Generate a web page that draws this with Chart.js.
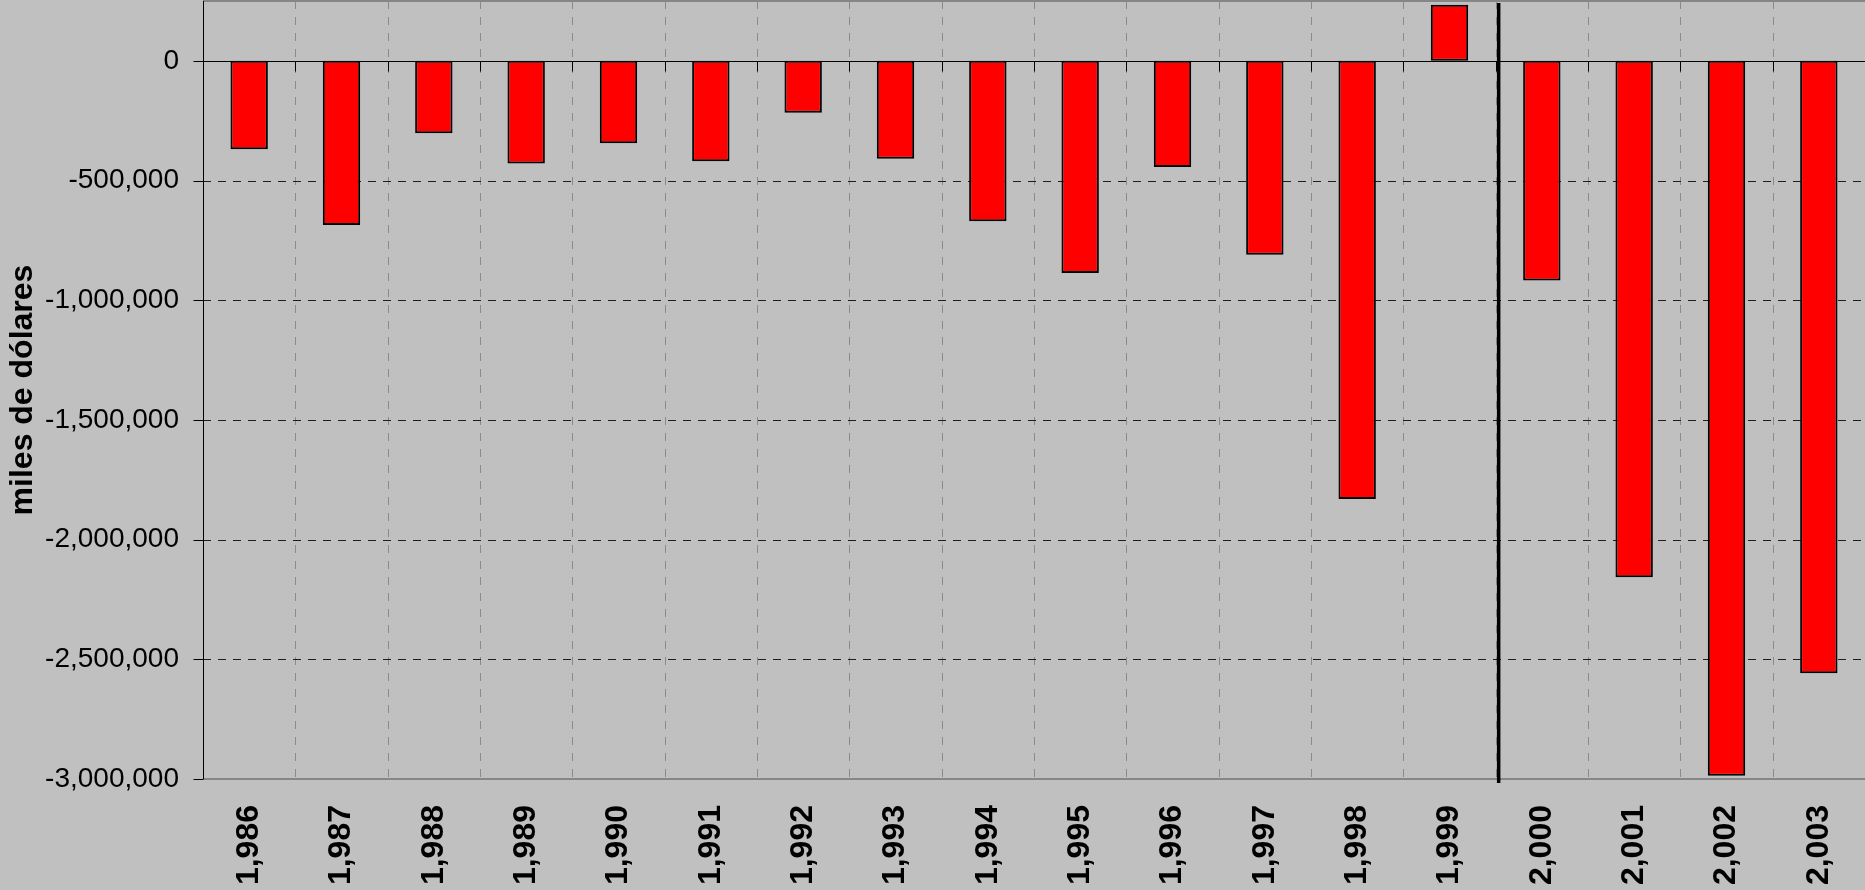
<!DOCTYPE html>
<html>
<head>
<meta charset="utf-8">
<script src="https://cdn.jsdelivr.net/npm/chart.js@4/dist/chart.umd.min.js"></script>
<style>
  html, body { margin: 0; padding: 0; background: #C0C0C0; overflow: hidden; }
  canvas { display: block; }
</style>
</head>
<body>
<canvas id="c" width="1865" height="890"></canvas>
<script>
// ---- data ----
const categories = ['1,986','1,987','1,988','1,989','1,990','1,991','1,992','1,993','1,994','1,995','1,996','1,997','1,998','1,999','2,000','2,001','2,002','2,003'];
const balanceValues = [-369000,-686000,-302000,-429000,-344000,-419000,-217000,-409000,-670000,-886000,-443000,-810000,-1830000,234000,-918000,-2157000,-2986000,-2558000];
const yTickValues = [0,-500000,-1000000,-1500000,-2000000,-2500000,-3000000];
const yAxisTitle = 'miles de dólares';
const dividerAfterIndex = 13; // separator line between 1,999 and 2,000

const FONT = '"Liberation Sans", Arial, sans-serif';

const bgPlugin = {
  id: 'bg',
  beforeDraw(chart) {
    const ctx = chart.ctx;
    ctx.save();
    ctx.fillStyle = '#C0C0C0';
    ctx.fillRect(0, 0, chart.width, chart.height);
    ctx.restore();
  }
};

const gridPlugin = {
  id: 'excelGrid',
  beforeDatasetsDraw(chart) {
    const ctx = chart.ctx;
    const a = chart.chartArea;
    const xs = chart.scales.x, ys = chart.scales.y;
    const n = categories.length;
    ctx.save();
    // vertical dashed gray gridlines at category boundaries
    ctx.strokeStyle = '#8a8a8a';
    ctx.lineWidth = 1;
    ctx.setLineDash([8, 8]);
    for (let i = 1; i < n; i++) {
      const x = Math.round((xs.getPixelForValue(i - 1) + xs.getPixelForValue(i)) / 2) + 0.5;
      ctx.beginPath(); ctx.moveTo(x, a.top); ctx.lineTo(x, a.bottom); ctx.stroke();
    }
    // horizontal dashed dark gridlines
    ctx.strokeStyle = '#1e1e1e';
    ctx.setLineDash([8, 7]);
    yTickValues.forEach(v => {
      if (v === 0 || v === ys.min) return;
      const y = Math.round(ys.getPixelForValue(v)) + 0.5;
      ctx.beginPath(); ctx.moveTo(a.left, y); ctx.lineTo(a.right, y); ctx.stroke();
    });
    ctx.setLineDash([]);
    // plot border top / bottom (gray)
    ctx.strokeStyle = '#868686';
    ctx.lineWidth = 2;
    ctx.beginPath(); ctx.moveTo(a.left, a.top); ctx.lineTo(a.right, a.top); ctx.stroke();
    ctx.beginPath(); ctx.moveTo(a.left, a.bottom); ctx.lineTo(a.right, a.bottom); ctx.stroke();
    // left axis line
    ctx.strokeStyle = '#000';
    ctx.lineWidth = 1;
    const lx = Math.round(a.left) + 0.5;
    ctx.beginPath(); ctx.moveTo(lx, a.top); ctx.lineTo(lx, a.bottom); ctx.stroke();
    // y tick marks
    yTickValues.forEach(v => {
      const y = Math.round(ys.getPixelForValue(v)) + 0.5;
      ctx.beginPath(); ctx.moveTo(lx - 10, y); ctx.lineTo(lx, y); ctx.stroke();
    });
    // zero line (category axis)
    const zy = Math.round(ys.getPixelForValue(0)) + 0.5;
    ctx.lineWidth = 1.2;
    ctx.beginPath(); ctx.moveTo(a.left, zy); ctx.lineTo(a.right, zy); ctx.stroke();
    // category tick marks on zero line
    ctx.lineWidth = 1;
    for (let i = 1; i < n; i++) {
      const x = Math.round((xs.getPixelForValue(i - 1) + xs.getPixelForValue(i)) / 2) + 0.5;
      ctx.beginPath(); ctx.moveTo(x, zy); ctx.lineTo(x, zy + 10); ctx.stroke();
    }
    ctx.restore();
  },
  afterDatasetsDraw(chart) {
    const ctx = chart.ctx;
    const a = chart.chartArea;
    const xs = chart.scales.x;
    const x = (xs.getPixelForValue(dividerAfterIndex) + xs.getPixelForValue(dividerAfterIndex + 1)) / 2 + 3;
    ctx.save();
    ctx.strokeStyle = '#000';
    ctx.lineWidth = 3.5;
    ctx.beginPath(); ctx.moveTo(x, a.top + 2); ctx.lineTo(x, a.bottom + 4); ctx.stroke();
    ctx.restore();
  }
};

new Chart(document.getElementById('c'), {
  type: 'bar',
  data: {
    labels: categories,
    datasets: [{
      data: balanceValues,
      backgroundColor: '#FF0000',
      borderColor: '#000000',
      borderWidth: 2,
      borderSkipped: false,
      categoryPercentage: 1.0,
      barPercentage: 0.405
    }]
  },
  options: {
    responsive: false,
    animation: false,
    events: [],
    layout: { padding: { top: 1, right: 0, bottom: 0, left: 0 } },
    plugins: { legend: { display: false }, tooltip: { enabled: false } },
    scales: {
      x: {
        grid: { display: false, drawTicks: false },
        border: { display: false },
        ticks: {
          autoSkip: false,
          minRotation: 90,
          maxRotation: 90,
          padding: 26,
          color: '#000',
          font: { family: FONT, size: 32, weight: 'bold' }
        },
        afterFit(s) { s.height = 111; s.paddingLeft = 0; s.paddingRight = 0; }
      },
      y: {
        min: -3000000,
        max: 250000,
        grid: { display: false, drawTicks: false },
        border: { display: false },
        afterBuildTicks(s) { s.ticks = yTickValues.slice().reverse().map(v => ({ value: v })); },
        ticks: {
          padding: 24,
          color: '#000',
          font: { family: FONT, size: 28 },
          callback: v => Number(v).toLocaleString('en-US')
        },
        title: {
          display: true,
          text: yAxisTitle,
          color: '#000',
          font: { family: FONT, size: 32, weight: 'bold' },
          padding: { top: 4, bottom: 0 }
        },
        afterFit(s) { s.width = 203; s.paddingTop = 0; s.paddingBottom = 0; }
      }
    }
  },
  plugins: [bgPlugin, gridPlugin]
});
</script>
</body>
</html>
